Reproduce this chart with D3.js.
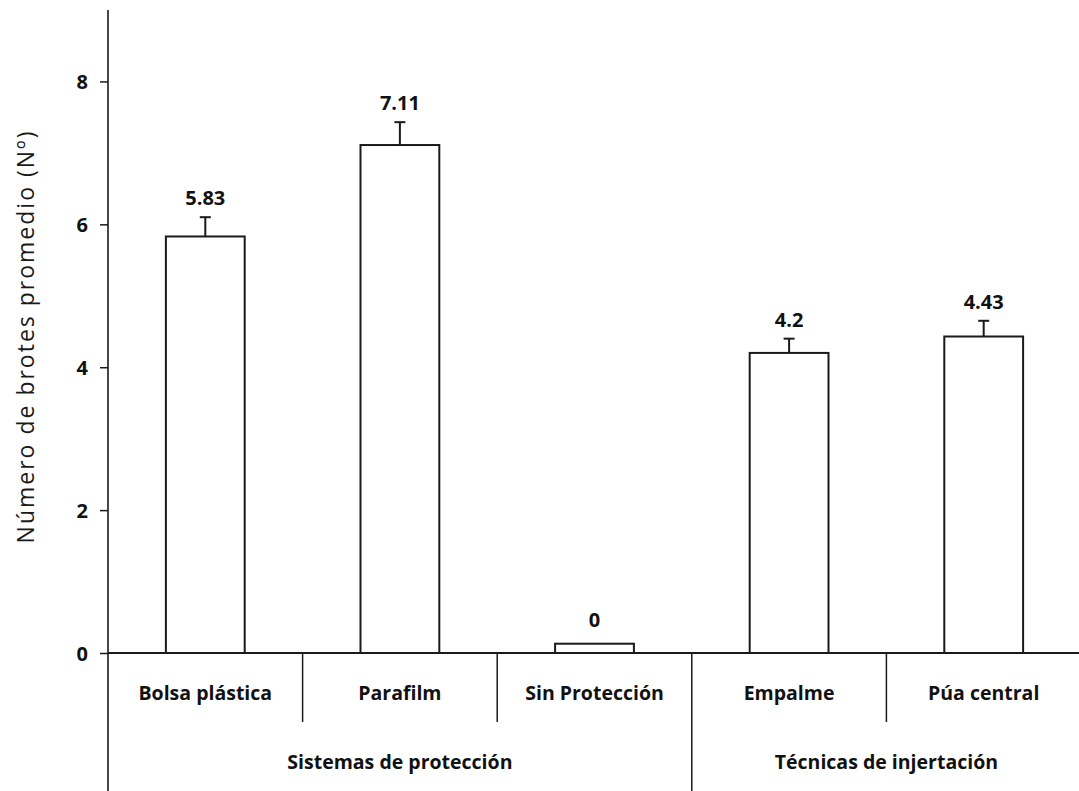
<!DOCTYPE html>
<html>
<head>
<meta charset="utf-8">
<script src="https://cdn.jsdelivr.net/npm/d3@7"></script>
<style>
  html, body { margin: 0; padding: 0; background: #fff; }
  svg { display: block; }
</style>
</head>
<body>
<div id="chart"></div>
<script>
const categories = ["Bolsa plástica", "Parafilm", "Sin Protección", "Empalme", "Púa central"];
const groups = ["Sistemas de protección", "Técnicas de injertación"];
const groupOf = [0, 0, 0, 1, 1];
const values = [5.83, 7.11, 0.13, 4.2, 4.43];
const errors = [0.27, 0.32, 0, 0.2, 0.22];
const valueLabels = ["5.83", "7.11", "0", "4.2", "4.43"];
const yTicks = [0, 2, 4, 6, 8];

const W = 1079, H = 791;
const margin = { top: 10, left: 108, bottom: H - 653 };
const plotRight = 1081;
const ink = "#1a1a1a";
const boldFont = "'Open Sans', sans-serif";

const svg = d3.select("#chart").append("svg")
  .attr("width", W)
  .attr("height", H)
  .attr("viewBox", `0 0 ${W} ${H}`);

const x = d3.scaleBand().domain(categories).range([margin.left, plotRight]).paddingInner(0).paddingOuter(0);
const barW = x.bandwidth() * 0.405;
const y = d3.scaleLinear().domain([0, 9]).range([H - margin.bottom, margin.top]);
const y0 = y(0);

// y axis
const yAxis = svg.append("g")
  .attr("transform", `translate(${margin.left},0)`)
  .call(d3.axisLeft(y).tickValues(yTicks).tickSize(8).tickSizeOuter(0).tickFormat(d3.format("d")));
yAxis.select(".domain").remove();
yAxis.selectAll(".tick line").attr("stroke", ink).attr("stroke-width", 1.5);
yAxis.selectAll("text")
  .attr("x", -20)
  .attr("dy", "0.36em")
  .style("font-family", boldFont)
  .style("font-weight", 700)
  .style("font-size", "20px")
  .style("fill", "#111");

// y axis line (runs past the x axis down through the category labels)
svg.append("line")
  .attr("x1", margin.left).attr("x2", margin.left)
  .attr("y1", y(9)).attr("y2", H)
  .attr("stroke", ink).attr("stroke-width", 1.6);

svg.append("text")
  .attr("transform", `translate(34, ${(y(9) + y0) / 2 + 5}) rotate(-90)`)
  .attr("text-anchor", "middle")
  .style("font-family", "'Open Sans', sans-serif")
  .style("font-size", "23px")
  .style("letter-spacing", "2px")
  .style("fill", "#1a1a1a")
  .text("Número de brotes promedio (Nº)");

// bars
svg.selectAll(".bar")
  .data(categories)
  .enter().append("rect")
  .attr("class", "bar")
  .attr("x", d => x(d) + (x.bandwidth() - barW) / 2)
  .attr("y", (d, i) => y(values[i]))
  .attr("width", barW)
  .attr("height", (d, i) => y0 - y(values[i]))
  .attr("fill", "#fff")
  .attr("stroke", ink)
  .attr("stroke-width", 2);

// error bars (upper only)
const cx = d => x(d) + x.bandwidth() / 2;
categories.forEach((c, i) => {
  if (!errors[i]) return;
  const top = y(values[i] + errors[i]);
  svg.append("line")
    .attr("x1", cx(c)).attr("x2", cx(c))
    .attr("y1", y(values[i])).attr("y2", top)
    .attr("stroke", ink).attr("stroke-width", 2);
  svg.append("line")
    .attr("x1", cx(c) - 5.5).attr("x2", cx(c) + 5.5)
    .attr("y1", top).attr("y2", top)
    .attr("stroke", ink).attr("stroke-width", 2);
});

// value labels
svg.selectAll(".vlabel")
  .data(categories)
  .enter().append("text")
  .attr("class", "vlabel")
  .attr("x", cx)
  .attr("y", (d, i) => y(values[i] + errors[i]) - (errors[i] ? 12 : 17))
  .attr("text-anchor", "middle")
  .style("font-family", boldFont)
  .style("font-weight", 700)
  .style("font-size", "20px")
  .style("fill", "#111")
  .text((d, i) => valueLabels[i]);

// x axis line
svg.append("line")
  .attr("x1", margin.left).attr("x2", plotRight)
  .attr("y1", y0).attr("y2", y0)
  .attr("stroke", ink).attr("stroke-width", 1.8);

// separators between categories
categories.forEach((c, i) => {
  if (i === 0) return;
  const groupEdge = groupOf[i] !== groupOf[i - 1];
  svg.append("line")
    .attr("x1", x(c)).attr("x2", x(c))
    .attr("y1", y0).attr("y2", groupEdge ? H : 722)
    .attr("stroke", ink).attr("stroke-width", 1.5);
});

// category labels
svg.selectAll(".xlabel")
  .data(categories)
  .enter().append("text")
  .attr("class", "xlabel")
  .attr("x", cx)
  .attr("y", 700)
  .attr("text-anchor", "middle")
  .style("font-family", boldFont)
  .style("font-weight", 700)
  .style("font-size", "19.5px")
  .style("fill", "#111")
  .text(d => d);

// group labels
groups.forEach((g, gi) => {
  const members = categories.filter((c, i) => groupOf[i] === gi);
  const x1 = x(members[0]);
  const x2 = x(members[members.length - 1]) + x.bandwidth();
  svg.append("text")
    .attr("x", (x1 + x2) / 2)
    .attr("y", 769)
    .attr("text-anchor", "middle")
    .style("font-family", boldFont)
    .style("font-weight", 700)
    .style("font-size", "19.5px")
    .style("fill", "#111")
    .text(g);
});
</script>
</body>
</html>
